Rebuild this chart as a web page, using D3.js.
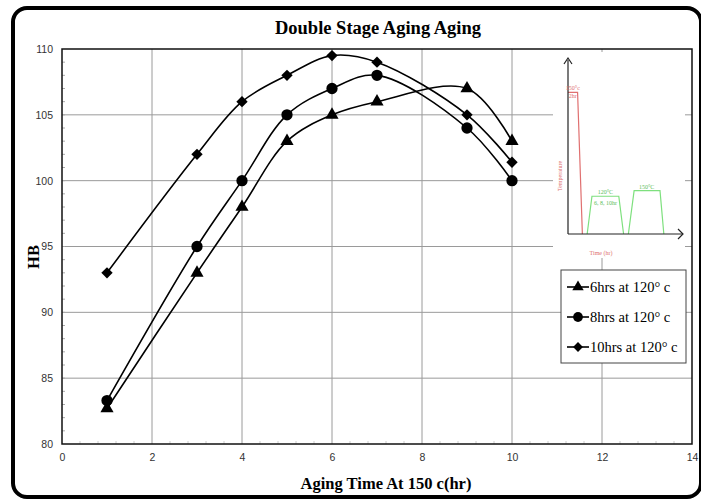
<!DOCTYPE html>
<html>
<head>
<meta charset="utf-8">
<script src="https://cdn.jsdelivr.net/npm/d3@7"></script>
<style>
  body { margin: 0; background: #fff; }
  svg { display: block; }
</style>
</head>
<body>
<svg id="chart" width="701" height="499"></svg>
<script>
// data
const agingTime = [1, 3, 4, 5, 6, 7, 9, 10];
const hb6hrs = [82.7, 93, 98, 103, 105, 106, 107, 103];
const hb8hrs = [83.3, 95, 100, 105, 107, 108, 104, 100];
const hb10hrs = [93, 102, 106, 108, 109.5, 109, 105, 101.4];
const seriesNames = ['6hrs at 120\u00b0 c', '8hrs at 120\u00b0 c', '10hrs at 120\u00b0 c'];
const xTicks = [0, 2, 4, 6, 8, 10, 12, 14];
const yTicks = [80, 85, 90, 95, 100, 105, 110];

// inset sketch (time, temperature), arbitrary units
const insetRed = [[0, 150], [1, 150], [1.5, 0]];
const insetGreen1 = [[2, 0], [2.5, 40], [5.3, 40], [5.8, 0]];
const insetGreen2 = [[6.3, 0], [6.9, 46], [9.6, 46], [10, 0]];

const svg = d3.select('#chart');
const margin = { left: 62, right: 9, top: 49, bottom: 55 };
const W = 701, H = 499;

const x = d3.scaleLinear().domain([0, 14]).range([margin.left, W - margin.right]);
const y = d3.scaleLinear().domain([80, 110]).range([H - margin.bottom, margin.top]);

// outer rounded frame
svg.append('rect')
  .attr('x', 13).attr('y', 8).attr('width', 688).attr('height', 489)
  .attr('rx', 14)
  .attr('fill', '#fff').attr('stroke', '#000').attr('stroke-width', 4);

// grid
svg.append('g').selectAll('line').data(xTicks.slice(1, -1)).join('line')
  .attr('x1', d => x(d)).attr('x2', d => x(d))
  .attr('y1', y(80)).attr('y2', y(110))
  .attr('stroke', '#9a9a9a').attr('stroke-width', 1);
svg.append('g').selectAll('line').data(yTicks.slice(1, -1)).join('line')
  .attr('x1', x(0)).attr('x2', x(14))
  .attr('y1', d => y(d)).attr('y2', d => y(d))
  .attr('stroke', '#9a9a9a').attr('stroke-width', 1);

// minor ticks
svg.append('g').selectAll('line').data(d3.range(81, 110)).join('line')
  .attr('x1', x(0)).attr('x2', x(0) + 3)
  .attr('y1', d => y(d)).attr('y2', d => y(d))
  .attr('stroke', '#aaa');
svg.append('g').selectAll('line').data(d3.range(1, 35).map(i => i * 0.4)).join('line')
  .attr('x1', d => x(d)).attr('x2', d => x(d))
  .attr('y1', y(80)).attr('y2', y(80) - 3)
  .attr('stroke', '#ccc');

// plot frame
svg.append('rect')
  .attr('x', x(0)).attr('y', y(110))
  .attr('width', x(14) - x(0)).attr('height', y(80) - y(110))
  .attr('fill', 'none').attr('stroke', '#111').attr('stroke-width', 1.5);

// axes labels via d3 axes
const xAxis = svg.append('g')
  .attr('transform', `translate(0,${y(80)})`)
  .call(d3.axisBottom(x).tickValues(xTicks).tickSize(0).tickPadding(10));
const yAxis = svg.append('g')
  .attr('transform', `translate(${x(0)},0)`)
  .call(d3.axisLeft(y).tickValues(yTicks).tickSize(0).tickPadding(9));
[xAxis, yAxis].forEach(a => {
  a.select('.domain').remove();
  a.selectAll('text')
    .attr('font-family', 'Liberation Sans, Arial, sans-serif')
    .attr('font-size', 10.5).attr('fill', '#333');
});

// inset sketch
const inset = svg.append('g');
inset.append('rect')
  .attr('x', 553).attr('y', 52).attr('width', 132).attr('height', 206)
  .attr('fill', '#fff');
const ix = d3.scaleLinear().domain([0, 12]).range([568, 683]);
const iy = d3.scaleLinear().domain([0, 160]).range([234, 83]);
const iline = d3.line().x(d => ix(d[0])).y(d => iy(d[1]));
inset.append('path').attr('d', iline(insetRed))
  .attr('fill', 'none').attr('stroke', '#e07070').attr('stroke-width', 1.2);
[insetGreen1, insetGreen2].forEach(s => inset.append('path').attr('d', iline(s))
  .attr('fill', 'none').attr('stroke', '#7ee07e').attr('stroke-width', 1.2));
inset.append('line').attr('x1', ix(0)).attr('x2', ix(0)).attr('y1', 60).attr('y2', iy(0))
  .attr('stroke', '#222').attr('stroke-width', 1.2);
inset.append('line').attr('x1', ix(0)).attr('x2', ix(12)).attr('y1', iy(0)).attr('y2', iy(0))
  .attr('stroke', '#222').attr('stroke-width', 1.2);
inset.append('path')
  .attr('d', `M${ix(12) - 5},${iy(0) - 5} L${ix(12)},${iy(0)} L${ix(12) - 5},${iy(0) + 5}`)
  .attr('fill', 'none').attr('stroke', '#222').attr('stroke-width', 1.2);
inset.append('path')
  .attr('d', `M${ix(0) - 4},64 L${ix(0)},58 L${ix(0) + 4},64`)
  .attr('fill', 'none').attr('stroke', '#222').attr('stroke-width', 1.2);
const tiny = (t, px, py, c, rot) => {
  const el = inset.append('text').text(t)
    .attr('font-family', 'Liberation Serif, serif').attr('font-size', 6)
    .attr('fill', c).attr('text-anchor', 'middle');
  if (rot) el.attr('transform', `translate(${px},${py}) rotate(-90)`);
  else el.attr('x', px).attr('y', py);
};
tiny('150\u00b0c', ix(0.5), iy(150) - 2, '#e07070');
tiny('2hr', ix(0.5), iy(150) + 6, '#e07070');
tiny('120\u00b0C', ix(3.9), iy(40) - 2, '#5cc05c');
tiny('6, 8, 10hr', ix(3.9), iy(40) + 9, '#5cc05c');
tiny('150\u00b0C', ix(8.2), iy(46) - 2, '#5cc05c');
tiny('Temperature', 562, 176, '#e07070', true);
tiny('Time (hr)', 601, 255, '#e07070');

// series
const rows = [hb6hrs, hb8hrs, hb10hrs];
const diamond = {
  draw(ctx, size) {
    const r = Math.sqrt(size / 2);
    ctx.moveTo(0, -r); ctx.lineTo(r, 0); ctx.lineTo(0, r); ctx.lineTo(-r, 0); ctx.closePath();
  }
};
const symbols = [d3.symbolTriangle, d3.symbolCircle, diamond];
const symSize = [75, 100, 64];
const line = d3.line().x(d => x(d[0])).y(d => y(d[1])).curve(d3.curveCatmullRom.alpha(0.5));

rows.forEach((vals, i) => {
  const pts = agingTime.map((t, j) => [t, vals[j]]);
  svg.append('path').attr('d', line(pts))
    .attr('fill', 'none').attr('stroke', '#000').attr('stroke-width', 1.6);
  svg.append('g').selectAll('path').data(pts).join('path')
    .attr('transform', d => `translate(${x(d[0])},${y(d[1])})`)
    .attr('d', d3.symbol(symbols[i], symSize[i]))
    .attr('fill', '#000');
});

// legend
const lg = svg.append('g');
lg.append('rect').attr('x', 561).attr('y', 270).attr('width', 125).attr('height', 93)
  .attr('fill', '#fff').attr('stroke', '#444').attr('stroke-width', 1);
seriesNames.forEach((name, i) => {
  const ly = 287 + i * 30;
  lg.append('line').attr('x1', 567).attr('x2', 589).attr('y1', ly).attr('y2', ly)
    .attr('stroke', '#000').attr('stroke-width', 1.6);
  lg.append('path').attr('transform', `translate(578,${ly})`)
    .attr('d', d3.symbol(symbols[i], symSize[i] * 0.75)).attr('fill', '#000');
  lg.append('text').text(name).attr('x', 590).attr('y', ly + 5)
    .attr('font-family', 'Liberation Serif, Times New Roman, serif')
    .attr('font-size', 14.5).attr('fill', '#000');
});

// titles
svg.append('text').text('Double Stage Aging Aging')
  .attr('x', 378).attr('y', 34).attr('text-anchor', 'middle')
  .attr('font-family', 'Liberation Serif, Times New Roman, serif')
  .attr('font-weight', 'bold').attr('font-size', 18.5);
svg.append('text').text('Aging Time At 150 c(hr)')
  .attr('x', 386).attr('y', 489).attr('text-anchor', 'middle')
  .attr('font-family', 'Liberation Serif, Times New Roman, serif')
  .attr('font-weight', 'bold').attr('font-size', 16.5);
svg.append('text').text('HB')
  .attr('transform', `translate(39,257) rotate(-90)`)
  .attr('text-anchor', 'middle')
  .attr('font-family', 'Liberation Serif, Times New Roman, serif')
  .attr('font-weight', 'bold').attr('font-size', 16.5);
</script>
</body>
</html>
